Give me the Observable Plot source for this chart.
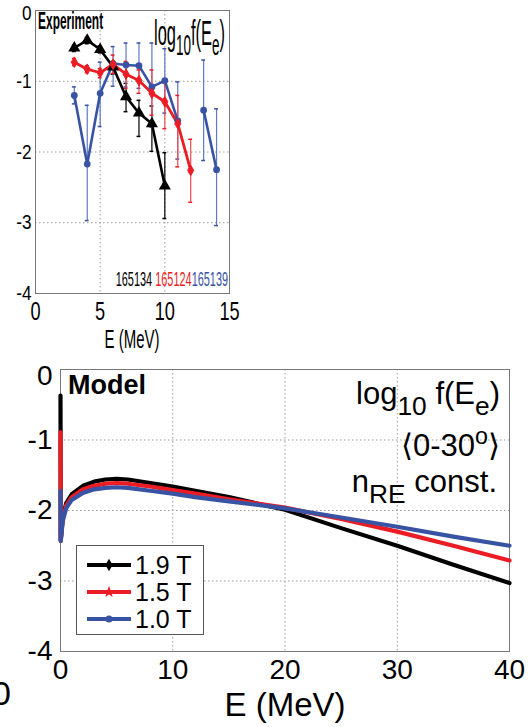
<!DOCTYPE html>
<html><head><meta charset="utf-8">
<script src="https://cdn.jsdelivr.net/npm/d3@7"></script>
<script src="https://cdn.jsdelivr.net/npm/@observablehq/plot@0.6"></script>
<style>
body{margin:0;background:#fff;}
#wrap{position:relative;width:529px;height:727px;overflow:hidden;font-family:"Liberation Sans",Arial,sans-serif;color:#000;}
.abs{position:absolute;white-space:nowrap;line-height:1;}
sub,sup{line-height:0;}
</style></head><body><div id="wrap"></div>
<script>
// ---------- Experiment (top panel) ----------
const shotLabels = ["165134","165124","165139"];
const e134 = [3,4,5,6,7,8,9,10];
const v134 = [-0.53,-0.42,-0.55,-0.80,-1.22,-1.45,-1.60,-2.48];
const hi134 = [-0.49,-0.38,-0.50,-0.72,-1.03,-1.27,-1.35,-2.01];
const lo134 = [-0.58,-0.47,-0.60,-0.90,-1.43,-1.78,-1.99,-2.94];
const e124 = [3,4,5,6,7,8,9,10,11,12];
const v124 = [-0.73,-0.83,-0.88,-0.76,-0.90,-0.99,-1.17,-1.29,-1.60,-2.26];
const hi124 = [-0.68,-0.78,-0.82,-0.63,-0.72,-0.84,-0.84,-1.03,-1.20,-1.82];
const lo124 = [-0.78,-0.88,-0.95,-0.89,-1.10,-1.17,-1.48,-1.67,-2.21,-2.71];
const e139 = [3,4,5,6,7,8,9,10,11,13,14];
const v139 = [-1.20,-2.17,-1.17,-0.75,-0.77,-0.78,-1.08,-0.99,-1.56,-1.41,-2.25];
const hi139 = [-1.08,-1.34,-0.73,-0.51,-0.46,-0.46,-0.46,-0.54,-1.01,-0.70,-1.39];
const lo139 = [-1.32,-2.97,-1.64,-1.07,-1.08,-1.10,-1.65,-1.45,-2.10,-2.12,-3.04];
const seg139 = [0,0,0,0,0,0,0,0,0,1,1];
const expXTicks = [0,5,10,15];
const expYTicks = [0,-1,-2,-3,-4];

// ---------- Model (bottom panel) ----------
const fieldLabels = ["1.9 T","1.5 T","1.0 T"];
const mE = [0,0.02,0.2,0.5,1,2,3,4,5,6,8,10,12,15,20,25,30,35,40];
const m19 = [-0.37,-2.43,-2.10,-1.90,-1.77,-1.65,-1.59,-1.56,-1.55,-1.56,-1.61,-1.66,-1.72,-1.81,-1.99,-2.25,-2.50,-2.77,-3.03];
const m15 = [-0.89,-2.43,-2.12,-1.93,-1.81,-1.70,-1.65,-1.62,-1.61,-1.62,-1.66,-1.71,-1.76,-1.84,-1.96,-2.12,-2.30,-2.50,-2.71];
const m10 = [-1.72,-2.43,-2.15,-1.97,-1.85,-1.75,-1.70,-1.68,-1.67,-1.68,-1.72,-1.76,-1.81,-1.87,-1.97,-2.10,-2.23,-2.37,-2.50];
const modXTicks = [0,10,20,30,40];
const modYTicks = [0,-1,-2,-3,-4];

const BLACK="#000000", RED="#ec1c24", BLUE="#3953a4", BLUE_LT="#5f79c2", RED_LT="#f04a50";

function rows(E,V,HI,LO,seg){return E.map((e,i)=>({E:e,v:V[i],hi:HI[i],lo:LO[i],seg:seg?seg[i]:0}));}
const d134 = rows(e134,v134,hi134,lo134);
const d124 = rows(e124,v124,hi124,lo124);
const d139 = rows(e139,v139,hi139,lo139,seg139);

const W = document.getElementById('wrap');
const fmt = d => String(d);
const grid = {stroke:"#9a9a9a", strokeOpacity:1, strokeDasharray:"1.5,2.5", strokeWidth:1};

function errMarks(data, color, capColor){
  return [
    Plot.ruleX(data,{x:"E",y1:"lo",y2:"hi",stroke:capColor,strokeWidth:1.2}),
    Plot.ruleY(data,{y:"lo",x1:d=>d.E-0.15,x2:d=>d.E+0.15,stroke:color,strokeWidth:1.5}),
    Plot.ruleY(data,{y:"hi",x1:d=>d.E-0.15,x2:d=>d.E+0.15,stroke:color,strokeWidth:1.5})
  ];
}

const topPlot = Plot.plot({
  width:250, height:360, marginLeft:35, marginRight:21, marginTop:10, marginBottom:67,
  x:{domain:[0,15]}, y:{domain:[-4,0]},
  style:{fontFamily:"Liberation Sans, Arial, sans-serif", background:"transparent", overflow:"visible", color:"#000"},
  marks:[
    Plot.gridX({ticks:[5,10], ...grid}),
    Plot.gridY({ticks:[-1,-2,-3], ...grid}),
    Plot.frame({stroke:"#777"}),
    Plot.axisX({ticks:expXTicks, tickSize:0, tickPadding:8, fontSize:26, tickFormat:fmt, label:null}),
    Plot.axisY({ticks:expYTicks.slice(1), tickSize:0, tickPadding:4, fontSize:21, tickFormat:fmt, label:null}),
    Plot.axisY({ticks:expYTicks.slice(0,1), tickSize:0, tickPadding:4, fontSize:21, tickFormat:fmt, label:null, dy:3}),
    ...errMarks(d134, BLACK, BLACK),
    ...errMarks(d139, BLUE, BLUE_LT),
    ...errMarks(d124, RED, RED_LT),
    Plot.line(d134,{x:"E",y:"v",stroke:BLACK,strokeWidth:2.6}),
    Plot.line(d139,{x:"E",y:"v",z:"seg",stroke:BLUE,strokeWidth:2.6}),
    Plot.line(d124,{x:"E",y:"v",stroke:RED,strokeWidth:2.8}),
    Plot.dot(d134,{x:"E",y:"v",symbol:"triangle",r:4.5,fill:BLACK}),
    Plot.dot(d139,{x:"E",y:"v",symbol:"circle",r:3.4,fill:BLUE}),
    Plot.dot(d124,{x:"E",y:"v",symbol:"diamond",r:3.2,fill:RED,stroke:RED,strokeWidth:1})
  ]
});

function squeeze(svg, sel, k){
  svg.querySelectorAll(sel).forEach(t=>{
    const tr=t.getAttribute('transform');
    if(tr){t.setAttribute('transform',tr+` scale(${k},1)`);}
    else{const x=+t.getAttribute('x')||0,y=+t.getAttribute('y')||0;t.setAttribute('x',0);t.setAttribute('y',0);t.setAttribute('transform',`translate(${x},${y}) scale(${k},1)`);}
  });
}
squeeze(topPlot,'g[aria-label="x-axis tick label"] text',0.7);
squeeze(topPlot,'g[aria-label="y-axis tick label"] text',0.82);

const topDiv=document.createElement('div');topDiv.className='abs';topDiv.style.left='0px';topDiv.style.top='0px';
topDiv.appendChild(topPlot);W.appendChild(topDiv);

// model table
const model=[];
[m19,m15,m10].forEach((arr,k)=>mE.forEach((e,i)=>model.push({E:e,v:arr[i],s:fieldLabels[k]})));
const colors=[BLACK,RED,BLUE];

const botPlot = Plot.plot({
  width:529, height:387, marginLeft:60, marginRight:20, marginTop:29, marginBottom:76,
  x:{domain:[0,40]}, y:{domain:[-4,0]},
  color:{domain:fieldLabels, range:colors},
  style:{fontFamily:"Liberation Sans, Arial, sans-serif", background:"transparent", overflow:"visible", color:"#000"},
  marks:[
    Plot.gridX({ticks:[10,20,30], ...grid}),
    Plot.gridY({ticks:[-1,-2,-3], ...grid}),
    Plot.frame({stroke:"#777"}),
    Plot.axisX({ticks:modXTicks, tickSize:0, tickPadding:8, fontSize:28, tickFormat:fmt, label:null}),
    Plot.axisY({ticks:modYTicks.slice(1), tickSize:0, tickPadding:8, fontSize:28, tickFormat:fmt, label:null}),
    Plot.axisY({ticks:modYTicks.slice(0,1), tickSize:0, tickPadding:8, fontSize:28, tickFormat:fmt, label:null, dy:7}),
    Plot.line(model,{x:"E",y:"v",z:"s",stroke:"s",strokeWidth:4.2})
  ]
});
const botDiv=document.createElement('div');botDiv.className='abs';botDiv.style.left='0px';botDiv.style.top='340px';
botDiv.appendChild(botPlot);W.appendChild(botDiv);

// ---------- annotations ----------
function addText(html, css){const d=document.createElement('div');d.className='abs';d.innerHTML=html;Object.assign(d.style,css);W.appendChild(d);return d;}
// top panel
addText('Experiment',{left:'38px',top:'10px',fontSize:'23px',fontWeight:'bold',transform:'scaleX(0.52)',transformOrigin:'0 0'});
addText('log<span style="font-size:0.82em;position:relative;top:0.35em">10</span>f(E<span style="font-size:0.82em;position:relative;top:0.35em">e</span>)',
  {right:'304px',top:'15px',fontSize:'35px',transform:'scaleX(0.47)',transformOrigin:'100% 0'});
addText(`<span style="color:${BLACK}">${shotLabels[0]}</span> <span style="color:${RED}">${shotLabels[1]}</span><span style="color:${BLUE}">${shotLabels[2]}</span>`,
  {right:'301px',top:'268px',fontSize:'21px',transform:'scaleX(0.52)',transformOrigin:'100% 0'});
addText('E (MeV)',{left:'132px',top:'327px',fontSize:'25px',transform:'translateX(-50%) scaleX(0.6)',transformOrigin:'50% 0'});
// bottom panel
addText('Model',{left:'68px',top:'372px',fontSize:'27px',fontWeight:'bold'});
addText('log<span style="font-size:0.85em;position:relative;top:0.42em">10</span> f(E<span style="font-size:0.85em;position:relative;top:0.42em">e</span>)',
  {right:'29px',top:'378px',fontSize:'31px'});
addText('⟨0-30<span style="font-size:0.75em;position:relative;top:-0.5em">o</span>⟩',{right:'29px',top:'430px',fontSize:'31px'});
addText('n<span style="font-size:0.85em;position:relative;top:0.4em">RE</span> const.',{right:'32px',top:'466px',fontSize:'31px'});
addText('E (MeV)',{left:'285px',top:'688px',fontSize:'33px',transform:'translateX(-50%)'});
addText('0',{left:'-8px',top:'676px',fontSize:'34px'});

// legend
const lg=document.createElement('div');lg.className='abs';
Object.assign(lg.style,{left:'76px',top:'545px',width:'126px',height:'88px',border:'1px solid #555',background:'#fff'});
const markerSym=['diamond','star','circle'];
fieldLabels.forEach((lab,i)=>{
  const row=document.createElement('div');row.className='abs';
  Object.assign(row.style,{left:'9px',top:(8+i*27)+'px',height:'22px',fontSize:'25px'});
  const sym=d3.symbol(d3['symbol'+markerSym[i][0].toUpperCase()+markerSym[i].slice(1)], i==2?40:45)();
  row.innerHTML=`<svg width="46" height="22" style="position:absolute;left:0;top:0"><line x1="1" x2="45" y1="11" y2="11" stroke="${colors[i]}" stroke-width="4.2"/><path d="${sym}" transform="translate(23,11)" fill="${colors[i]}"/></svg><span style="position:absolute;left:49px;top:-1px">${lab}</span>`;
  lg.appendChild(row);
});
W.appendChild(lg);
</script></body></html>
